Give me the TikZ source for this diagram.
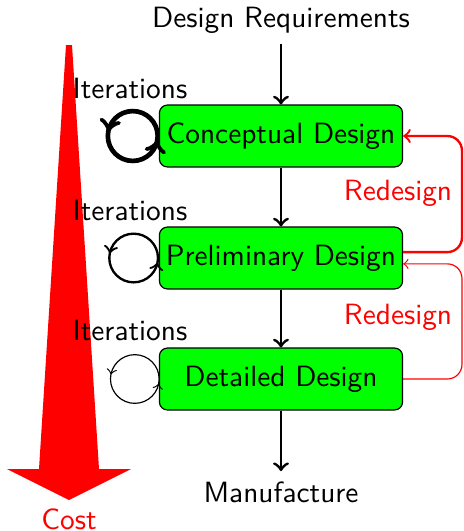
\documentclass[tikz,border=0pt]{standalone}
\usetikzlibrary{positioning,decorations.markings}
\tikzset{
  stage/.style={rectangle,rounded corners=2.7pt,draw=black,fill=green,minimum width=82.9pt,minimum height=21.1pt,inner sep=0pt,font=\sffamily},
  loopmark/.style={postaction={decorate},decoration={markings,
      mark=at position 0.47 with {\arrow{>}},
      mark=at position 0.97 with {\arrow{>}}}}
}
\begin{document}
\begin{tikzpicture}[x=0.341pt,y=-0.341pt,font=\sffamily]
\useasboundingbox (0,0) rectangle (464,531);

% cost arrow
\fill[red] (66,45) -- (72,45) -- (99,469) -- (131,469) -- (69,500) -- (7,469) -- (39,469) -- cycle;
\node[red] (K) at (69,519) {Cost};

\node (R) at (281,20) {Design Requirements};
\begin{scope}[every node/.style={stage}]
  \node (C) at (281,136) {Conceptual Design};
  \node (P) at (281,258) {Preliminary Design};
  \node (D) at (281,379) {Detailed Design};
\end{scope}
\node (M) at (281,492) {Manufacture};

\begin{scope}[every edge/.style={draw=black,line width=1pt}]
  \path [->] (R) edge (C);
  \path [->] (C) edge (P);
  \path [->] (P) edge (D);
  \path [->] (D) edge (M);
\end{scope}

% iterations
\node (I1) at (130,88) {Iterations};
\node (I2) at (130,210) {Iterations};
\node (I3) at (130,330) {Iterations};
\draw[ultra thick,loopmark] ([xshift=-8.9pt]C.west) circle [radius=8.5pt];
\draw[thick,loopmark] ([xshift=-8.6pt]P.west) circle [radius=8.3pt];
\draw[loopmark] ([xshift=-8.2pt]D.west) circle [radius=8.3pt];

% redesign
\draw[red,thick,->,rounded corners=5pt] ([yshift=2pt]P.east) -| (462,190) |- (C.east);
\draw[red,->,rounded corners=5pt] (D.east) -| (462,320) |- ([yshift=-2pt]P.east);
\node[red] (X1) at (398,193) {Redesign};
\node[red] (X2) at (398,317) {Redesign};
\end{tikzpicture}
\end{document}
